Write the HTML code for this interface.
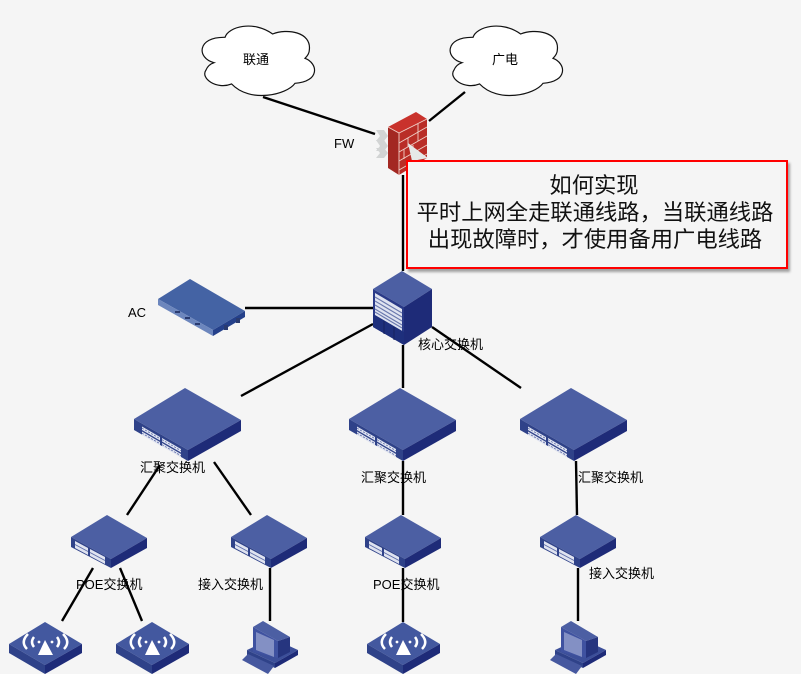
<!DOCTYPE html>
<html><head><meta charset="utf-8">
<style>
html,body{margin:0;padding:0;background:#f5f5f5}
svg{display:block}
text{font-family:"Liberation Sans","Noto Sans CJK SC",sans-serif;fill:#000;font-size:13px}
.big{font-size:22.3px;text-anchor:middle;fill:#111}
</style></head><body>
<svg width="801" height="674" viewBox="0 0 801 674" xmlns="http://www.w3.org/2000/svg">
<defs>
<filter id="sh" x="-5%" y="-10%" width="110%" height="125%"><feDropShadow dx="2" dy="3" stdDeviation="1.4" flood-color="#000" flood-opacity=".35"/></filter>
<g id="sw">
  <polygon points="51,0 0,31 54,62 107,32" fill="#4c5fa3"/>
  <polygon points="0,31 54,62 54,73 0,42" fill="#2f4289"/>
  <polygon points="54,62 107,32 107,43 54,73" fill="#1e2b78"/>
  <g fill="#dfe3f0">
    <polygon points="8,38.5 26,49 26,52.5 8,42"/><polygon points="28,50 47,61 47,64.5 28,53.5"/>
    <polygon points="8,43.5 26,54 26,57.5 8,47"/><polygon points="28,55 47,66 47,69 28,58.5"/>
  </g>
  <g stroke="#5a69a6" stroke-width=".8" stroke-dasharray="2 1.5" fill="none">
    <line x1="8" y1="40.2" x2="26" y2="50.7"/><line x1="28" y1="51.7" x2="47" y2="62.7"/>
    <line x1="8" y1="45.2" x2="26" y2="55.7"/><line x1="28" y1="56.7" x2="47" y2="67.7"/>
  </g>
</g>
<g id="ss">
  <polygon points="36,0 0,22 40,44 76,23" fill="#4c5fa3"/>
  <polygon points="0,22 40,44 40,53 0,32" fill="#2f4289"/>
  <polygon points="40,44 76,23 76,33 40,53" fill="#1e2b78"/>
  <polygon points="4,26 17,33 17,40 4,33" fill="#dfe3f0"/>
  <polygon points="19,34 34,42 34,49 19,41" fill="#dfe3f0"/>
  <g stroke="#5a69a6" stroke-width=".8" fill="none">
    <line x1="4" y1="29.5" x2="17" y2="36.5"/><line x1="19" y1="37.5" x2="34" y2="45.5"/>
  </g>
</g>
<g id="ap">
  <polygon points="36,0 0,22 36,43 73,22" fill="#43589f"/>
  <polygon points="0,22 36,43 36,52 0,31" fill="#2f4289"/>
  <polygon points="36,43 73,22 73,31 36,52" fill="#1e2b78"/>
  <polygon points="36,18 29,33 44,33" fill="#fff"/>
  <g fill="none" stroke="#fff" stroke-width="2.5">
    <path d="M25,15 Q21,20 25,25"/><path d="M48,15 Q52,20 48,25"/>
    <path d="M19,12 Q11,20 18,27"/><path d="M54,12 Q62,20 55,27"/>
  </g>
  <circle cx="30" cy="20" r="1.4" fill="#fff"/><circle cx="43" cy="20" r="1.4" fill="#fff"/>
</g>
<g id="pc">
  <polygon points="5,29 33,42 56,29 45,24 20,22" fill="#3c4f99"/>
  <polygon points="5,29 33,42 33,47 5,34" fill="#2f4289"/>
  <polygon points="33,42 56,29 56,34 33,47" fill="#1e2b78"/>
  <polygon points="0,39 6,33 32,45 26,53" fill="#46589f"/>
  <polygon points="11,6 21,0 48,16 36,20" fill="#4c5fa3"/>
  <polygon points="11,6 36,20 36,37 11,31" fill="#3f52a0"/>
  <polygon points="36,20 48,16 48,31 36,37" fill="#26357f"/>
  <polygon points="14,11 32,19 32,36 14,29" fill="#8390c4"/>
</g>
<path id="cl" d="M105,52 C115,20 190,0 248,42 C290,25 365,35 358,90 C358,100 350,110 345,115 C385,130 390,185 315,190 C290,225 180,250 125,192 C80,210 30,175 48,150 C52,140 60,132 72,128 C20,115 20,50 105,52 Z" fill="#fff" stroke="#111" stroke-width="3.6"/>
</defs>
<rect width="801" height="674" fill="#f5f5f5"/>

<!-- connectors -->
<g stroke="#000" stroke-width="2.4" fill="none">
  <line x1="263" y1="97" x2="375" y2="134"/>
  <line x1="465" y1="92" x2="429" y2="121"/>
  <line x1="403" y1="175" x2="403" y2="271"/>
  <line x1="245" y1="308" x2="373" y2="308"/>
  <line x1="373" y1="324" x2="241" y2="396"/>
  <line x1="403" y1="345" x2="403" y2="388"/>
  <line x1="432" y1="327" x2="521" y2="388"/>
  <line x1="160" y1="465" x2="127" y2="515"/>
  <line x1="214" y1="462" x2="251" y2="515"/>
  <line x1="403" y1="461" x2="403" y2="515"/>
  <line x1="576" y1="461" x2="577" y2="515"/>
  <line x1="93" y1="568" x2="62" y2="621"/>
  <line x1="120" y1="568" x2="142" y2="621"/>
  <line x1="270" y1="568" x2="270" y2="621"/>
  <line x1="403" y1="568" x2="403" y2="622"/>
  <line x1="578" y1="568" x2="578" y2="621"/>
</g>

<!-- clouds -->
<use href="#cl" transform="translate(190,20) scale(.3333)"/>
<use href="#cl" transform="translate(438,20) scale(.3333)"/>
<text x="243" y="64">联通</text>
<text x="492" y="64">广电</text>

<!-- firewall -->
<g fill="#d2d4d4">
  <polygon points="376,130 384,130 388,136 384,141 376,141 380,136"/>
  <polygon points="376,140 384,140 388,146 384,151 376,151 380,146"/>
  <polygon points="376,148 384,148 388,153 384,158 376,158 380,153"/>
</g>
<polygon points="416,112 388,127 399,133 427,119" fill="#c9322c"/>
<polygon points="388,127 399,133 399,175 388,168" fill="#a32822"/>
<polygon points="399,133 427,119 427,158 399,175" fill="#b92d27"/>
<g stroke="#f0d0c8" stroke-width=".9" fill="none">
  <polyline points="388,127 399,133 427,119"/>
  <line x1="399" y1="133" x2="399" y2="175"/>
  <line x1="399" y1="143" x2="427" y2="127"/>
  <line x1="399" y1="152" x2="427" y2="136"/>
  <line x1="399" y1="161" x2="427" y2="145"/>
  <line x1="399" y1="170" x2="427" y2="154"/>
  <line x1="408" y1="138" x2="408" y2="147"/><line x1="418" y1="124" x2="418" y2="141"/>
  <line x1="413" y1="145" x2="413" y2="154"/><line x1="404" y1="149" x2="404" y2="159"/>
</g>
<polygon points="408,143 428,158 412,161" fill="#e6e9e8"/>

<!-- callout -->
<rect x="407" y="161" width="380" height="107" fill="#f5f5f5" stroke="#f00" stroke-width="2" filter="url(#sh)"/>
<text class="big" x="594" y="193">如何实现</text>
<text class="big" x="595" y="220">平时上网全走联通线路，当联通线路</text>
<text class="big" x="595" y="247">出现故障时，才使用备用广电线路</text>

<!-- AC -->
<polygon points="190,279 158,299 213,330 245,311" fill="#4463a4"/>
<polygon points="158,299 213,330 213,336 158,305" fill="#6c86bd"/>
<polygon points="213,330 245,311 245,317 213,336" fill="#24408a"/>
<g fill="#2a3b70"><rect x="175" y="311" width="5" height="2"/><rect x="185" y="317" width="5" height="2"/><rect x="195" y="323" width="5" height="2"/><rect x="224" y="325" width="4" height="5"/><rect x="236" y="318" width="4" height="5"/></g>

<!-- core -->
<polygon points="402,271 373,289 404,307 432,289" fill="#4c5fa3"/>
<polygon points="373,289 404,307 404,345 373,327" fill="#2a3a88"/>
<polygon points="404,307 432,289 432,327 404,345" fill="#1e2b78"/>
<polygon points="375,293 402,309 402,331 375,315" fill="#dfe3f0"/>
<polygon points="373,314 404,332 404,345 373,327" fill="#1e2f7c"/>
<g stroke="#6a78ad" stroke-width="1.1">
  <line x1="375" y1="297" x2="402" y2="313"/><line x1="375" y1="301" x2="402" y2="317"/><line x1="375" y1="305" x2="402" y2="321"/>
  <line x1="375" y1="309" x2="402" y2="325"/><line x1="375" y1="312" x2="402" y2="328"/>
</g>
<g stroke="#15205e" stroke-width="1"><line x1="384" y1="321" x2="384" y2="334"/><line x1="394" y1="327" x2="394" y2="340"/></g>

<!-- switches -->
<use href="#sw" x="134" y="388"/>
<use href="#sw" x="349" y="388"/>
<use href="#sw" x="520" y="388"/>
<use href="#ss" x="71" y="515"/>
<use href="#ss" x="231" y="515"/>
<use href="#ss" x="365" y="515"/>
<use href="#ss" x="540" y="515"/>
<use href="#ap" x="9" y="622"/>
<use href="#ap" x="116" y="622"/>
<use href="#ap" x="367" y="622"/>
<use href="#pc" x="242" y="621"/>
<use href="#pc" x="550" y="621"/>

<!-- labels -->
<text x="334" y="148">FW</text>
<text x="128" y="317">AC</text>
<text x="418" y="349">核心交换机</text>
<text x="140" y="472">汇聚交换机</text>
<text x="361" y="482">汇聚交换机</text>
<text x="578" y="482">汇聚交换机</text>
<text x="76" y="589">POE交换机</text>
<text x="198" y="589">接入交换机</text>
<text x="373" y="589">POE交换机</text>
<text x="589" y="578">接入交换机</text>
</svg>
</body></html>
